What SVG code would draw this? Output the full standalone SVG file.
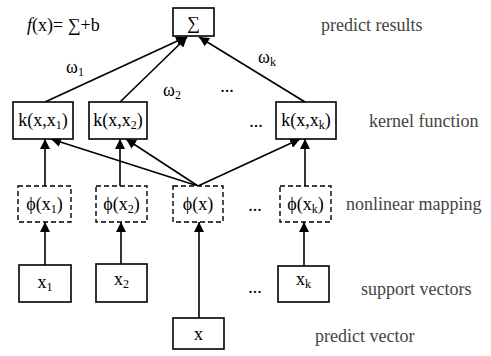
<svg xmlns="http://www.w3.org/2000/svg" width="491" height="356" viewBox="0 0 491 356">
<defs>
<marker id="ah" markerUnits="userSpaceOnUse" markerWidth="10" markerHeight="10" viewBox="0 0 10 10" refX="10" refY="5" orient="auto">
<path d="M0,0 L10,5 L0,10 Z" fill="#000"/>
</marker>
</defs>
<style>
.box{fill:#fff;stroke:#000;stroke-width:1.6}
.dash{fill:#fff;stroke:#000;stroke-width:1.4;stroke-dasharray:5,3}
.t{font-family:'Liberation Serif','Times New Roman',serif;font-size:18px;fill:#000;text-anchor:middle}
.lab{font-family:'Liberation Serif','Times New Roman',serif;font-size:18px;fill:#444}
.c line{stroke:#000;stroke-width:1.6;fill:none}
.sub{font-size:12px}
</style>
<rect width="491" height="356" fill="#fff"/>
<g class="c" id="connectors">
<line x1="45" y1="102" x2="186" y2="37" marker-end="url(#ah)"/>
<line x1="120" y1="102" x2="187" y2="37" marker-end="url(#ah)"/>
<line x1="305" y1="102" x2="199" y2="37" marker-end="url(#ah)"/>
<line x1="45" y1="186" x2="45" y2="139" marker-end="url(#ah)"/>
<line x1="120" y1="186" x2="120" y2="139" marker-end="url(#ah)"/>
<line x1="198" y1="186" x2="51" y2="139" marker-end="url(#ah)"/>
<line x1="198" y1="186" x2="126" y2="139" marker-end="url(#ah)"/>
<line x1="198" y1="186" x2="300" y2="139" marker-end="url(#ah)"/>
<line x1="305" y1="186" x2="305" y2="139" marker-end="url(#ah)"/>
<line x1="45" y1="265" x2="45" y2="222" marker-end="url(#ah)"/>
<line x1="121" y1="264" x2="121" y2="222" marker-end="url(#ah)"/>
<line x1="199" y1="318" x2="199" y2="222" marker-end="url(#ah)"/>
<line x1="304" y1="266" x2="304" y2="222" marker-end="url(#ah)"/>
</g>
<g id="sum"><rect class="box" x="173" y="8" width="41" height="28"/><text class="t" x="193.5" y="29">∑</text></g>
<g id="k1"><rect class="box" x="13" y="102" width="60" height="37"/><text class="t" x="43" y="126">k(x,x<tspan class="sub" dy="3">1</tspan><tspan dy="-3">)</tspan></text></g>
<g id="k2"><rect class="box" x="89" y="102" width="58" height="37"/><text class="t" x="118" y="126">k(x,x<tspan class="sub" dy="3">2</tspan><tspan dy="-3">)</tspan></text></g>
<g id="kk"><rect class="box" x="276" y="102" width="60" height="37"/><text class="t" x="306" y="126">k(x,x<tspan class="sub" dy="3">k</tspan><tspan dy="-3">)</tspan></text></g>
<g id="phi1"><rect class="dash" x="18" y="186" width="53" height="36"/><text class="t" x="44.5" y="210">ϕ(x<tspan class="sub" dy="3">1</tspan><tspan dy="-3">)</tspan></text></g>
<g id="phi2"><rect class="dash" x="96" y="186" width="51" height="36"/><text class="t" x="121.5" y="210">ϕ(x<tspan class="sub" dy="3">2</tspan><tspan dy="-3">)</tspan></text></g>
<g id="phix"><rect class="dash" x="173" y="186" width="50" height="36"/><text class="t" x="198" y="210">ϕ(x)</text></g>
<g id="phik"><rect class="dash" x="280" y="186" width="51" height="36"/><text class="t" x="305.5" y="210">ϕ(x<tspan class="sub" dy="3">k</tspan><tspan dy="-3">)</tspan></text></g>
<g id="x1"><rect class="box" x="19" y="265" width="52" height="37"/><text class="t" x="45" y="288">x<tspan class="sub" dy="3">1</tspan></text></g>
<g id="x2"><rect class="box" x="96" y="264" width="51" height="38"/><text class="t" x="121.5" y="285">x<tspan class="sub" dy="3">2</tspan></text></g>
<g id="xk"><rect class="box" x="278" y="266" width="51" height="36"/><text class="t" x="303.5" y="285">x<tspan class="sub" dy="3">k</tspan></text></g>
<g id="x"><rect class="box" x="173" y="318" width="51" height="31"/><text class="t" x="198.5" y="340">x</text></g>
<g id="labels">
<text class="lab" x="27" y="31" style="fill:#000"><tspan font-style="italic">f</tspan>(x)= ∑+b</text>
<text class="t" x="75" y="73">ω<tspan class="sub" dy="3">1</tspan></text>
<text class="t" x="172" y="96">ω<tspan class="sub" dy="3">2</tspan></text>
<text class="t" x="267" y="63">ω<tspan class="sub" dy="3">k</tspan></text>
<text class="t" x="227" y="92">...</text>
<text class="t" x="256" y="127">...</text>
<text class="t" x="255" y="211">...</text>
<text class="t" x="255" y="293">...</text>
<text class="lab" x="321" y="31">predict results</text>
<text class="lab" x="369" y="127">kernel function</text>
<text class="lab" x="346" y="210">nonlinear mapping</text>
<text class="lab" x="361" y="295">support vectors</text>
<text class="lab" x="315" y="342">predict vector</text>
</g>
</svg>
